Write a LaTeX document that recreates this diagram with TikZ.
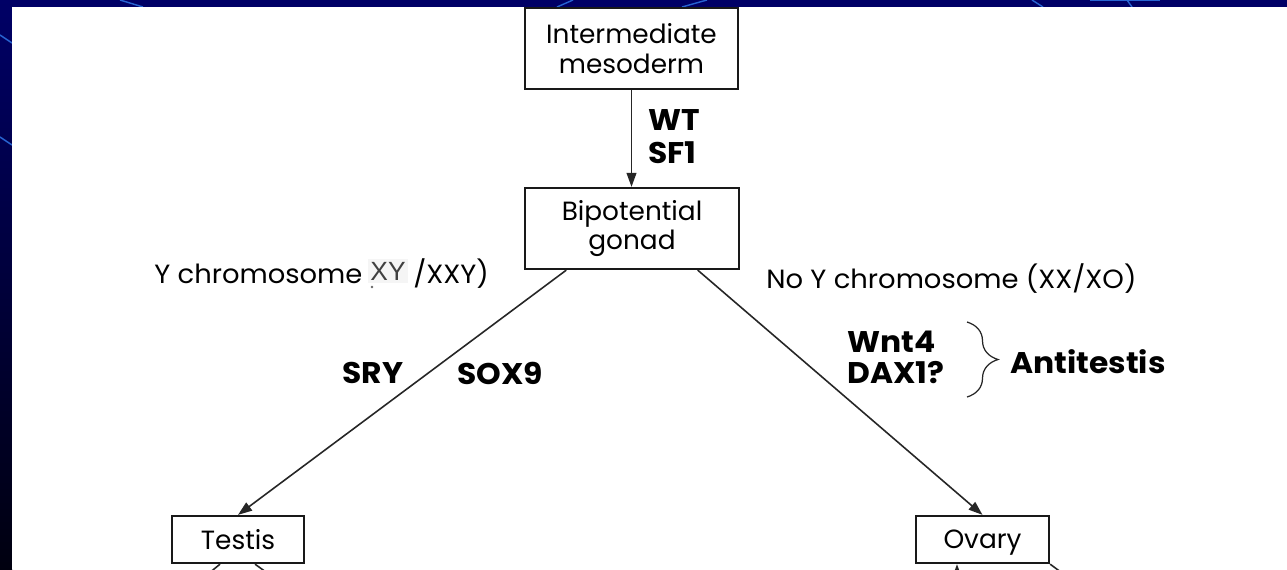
\documentclass[tikz,border=0pt]{standalone}
\usepackage{fontspec}
\setmainfont{Poppins}
\newfontfamily\widefont{Poppins}[FakeStretch=1.04]
\newfontfamily\genefont{Poppins}[FakeStretch=1.05]
\newfontfamily\patchfont{Liberation Sans}
\usetikzlibrary{arrows.meta,calc,decorations.pathreplacing}
\definecolor{navy}{RGB}{0,0,102}
\definecolor{streak}{RGB}{40,100,210}
\begin{document}
\begin{tikzpicture}[x=0.02cm,y=-0.02cm,
  box/.style={draw=black!90,line width=1.3pt,fill=white,inner sep=0pt,align=center,
    font=\fontsize{15}{17}\selectfont},
  plain/.style={inner sep=0pt,font=\widefont\fontsize{15}{17}\selectfont},
  gene/.style={inner sep=0pt,font=\genefont\bfseries\fontsize{17}{19}\selectfont},
  link/.style={draw=black!85,line width=0.9pt,-{Triangle[length=8pt,width=5.6pt]}},
  stub/.style={draw=black!85,line width=0.9pt},
  glint/.style={draw=streak,line width=0.8pt}]
\useasboundingbox (0,0) rectangle (1287,569);
\clip (0,0) rectangle (1287,569);

% slide backdrop: navy frame with a darkening left edge
\fill[navy] (0,0) rectangle (1287,569);
\shade[top color=navy,bottom color=black!85!navy] (0,0) rectangle (12,569);
\draw[glint] (0,35) -- (12,43);
\draw[glint] (0,137) -- (12,145);
\draw[glint] (120,0) -- (143,7);
\draw[glint] (557,7) -- (573,0);
\draw[glint] (682,7) -- (707,0);
\draw[glint] (1032,0) -- (1043,7);
\draw[glint] (1127,0) -- (1132,7);
\draw[streak,line width=1pt] (1090,0.5) -- (1160,0.5);
\fill[white] (12,7) rectangle (1287,569);

% boxes
\node[box,minimum width=4.26cm,minimum height=1.62cm] (meso) at (631.5,48.5) {Intermediate\\mesoderm};
\node[box,minimum width=4.28cm,minimum height=1.62cm] (bip) at (632,228.5) {Bipotential\\gonad};
\node[box,text depth=0pt,minimum width=2.64cm,minimum height=0.94cm] (testis) at (238,539.5) {Testis};
\node[box,text depth=0pt,minimum width=2.66cm,minimum height=0.94cm] (ovary) at (982.5,539.5) {Ovary};

% gene labels
\node[gene,anchor=west] (wt) at (648,120) {WT};
\node[gene,anchor=west] (sf) at (648,152.5) {SF1};
\node[gene,anchor=west] (sry) at (342,373) {SRY};
\node[gene,anchor=west] (sox) at (457,373) {SOX9};
\node[gene,anchor=west] (wnt) at (847,342) {Wnt4};
\node[gene,anchor=west] (dax) at (847,373) {DAX1?};
\node[gene,anchor=west] (anti) at (1010,362) {Antitestis};

% karyotype captions
\node[plain,anchor=base west] (ych) at (154,283) {Y chromosome};
\node[fill=black!4,inner sep=1.5pt,text=black!75,font=\patchfont\fontsize{15}{15}\selectfont] (xy) at (388,271) {XY};
\fill[black!60] (372,287) circle (1.3);
\node[plain,anchor=base west] (xxy) at (413,283) {/XXY)};
\node[plain,anchor=base west] (noy) at (766,288) {No Y chromosome (XX/XO)};

% antitestis brace
\coordinate (bt) at (967,322);
\coordinate (bb) at (967,397);
\draw[black!85,line width=0.7pt,decorate,decoration={brace,amplitude=0.62cm}] (bt) -- (bb);

% connectors
\draw[link] (meso.south) -- (meso.south |- bip.north);
\draw[link] ($(bip.south west)!0.196!(bip.south east)$) -- (testis.north);
\draw[link] ($(bip.south west)!0.804!(bip.south east)$) -- (ovary.north);

% continuations below the gonads
\coordinate (tl) at (185,593);
\coordinate (tr) at (295,593);
\coordinate (ob) at (957,610);
\coordinate (or) at (1089,593);
\draw[stub] ($(testis.south)+(-18,0)$) -- (tl);
\draw[stub] ($(testis.south)+(17,0)$) -- (tr);
\draw[link] (ob) -- (ovary.south -| ob);
\draw[stub] (ovary.south east) -- (or);
\end{tikzpicture}
\end{document}
